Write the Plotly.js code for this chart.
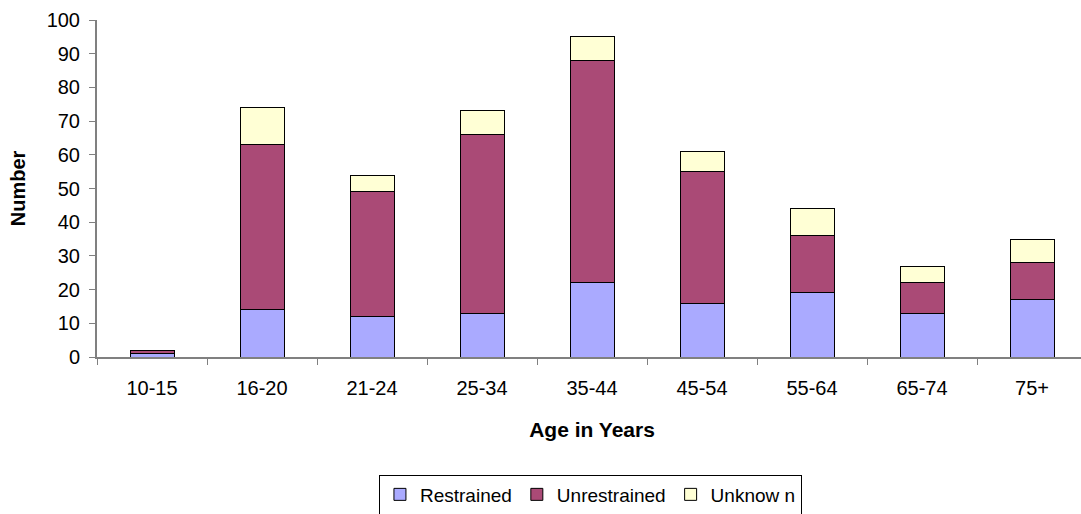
<!DOCTYPE html>
<html>
<head>
<meta charset="utf-8">
<script src="https://cdn.plot.ly/plotly-3.0.1.min.js"></script>
<style>
html,body{margin:0;padding:0;overflow:hidden;background:#fff;}
#chart{width:1090px;height:514px;}
</style>
</head>
<body>
<div id="chart"></div>
<script>
var categories = ["10-15","16-20","21-24","25-34","35-44","45-54","55-64","65-74","75+"];
var restrained   = [1, 14, 12, 13, 22, 16, 19, 13, 17];
var unrestrained = [1, 49, 37, 53, 66, 39, 17,  9, 11];
var unknown      = [0, 11,  5,  7,  7,  6,  8,  5,  7];
var seriesNames  = ["Restrained", "Unrestrained", "Unknow n"];
var yTicks = [0,10,20,30,40,50,60,70,80,90,100];

var colors = ["#AAAAFF", "#AA4A76", "#FFFFD5"];
var font = "Liberation Sans, Arial, sans-serif";

function mk(name, vals, col){
  return {
    type: "bar", name: name, x: categories, y: vals, width: 0.4,
    marker: {color: col, line: {color: "#000000", width: 1}},
    hoverinfo: "x+y+name"
  };
}

var data = [
  mk(seriesNames[0], restrained, colors[0]),
  mk(seriesNames[1], unrestrained, colors[1]),
  mk(seriesNames[2], unknown, colors[2])
];

var layout = {
  width: 1090, height: 514,
  margin: {l: 97, r: 3, t: 20, b: 157.3, autoexpand: false},
  barmode: "stack",
  paper_bgcolor: "#ffffff", plot_bgcolor: "#ffffff",
  font: {family: font, size: 20, color: "#000000"},
  showlegend: true,
  legend: {
    orientation: "h", x: 0.2848, xanchor: "left",
    yref: "container", y: 0.0768, yanchor: "top",
    bordercolor: "#000000", borderwidth: 1, bgcolor: "#ffffff",
    font: {family: font, size: 19, color: "#000000"},
    traceorder: "normal", itemwidth: 30, tracegroupgap: 0
  },
  xaxis: {
    type: "category", automargin: false,
    showline: true, linecolor: "#808080", linewidth: 2,
    ticks: "outside", tickson: "boundaries", ticklen: 6, tickcolor: "#808080", tickwidth: 1,
    ticklabelstandoff: 12,
    showgrid: false, zeroline: false,
    tickfont: {family: font, size: 20},
    title: {text: "<b>Age in Years</b>", font: {family: font, size: 21}, standoff: 24}
  },
  yaxis: {
    range: [0, 100], tickvals: yTicks, ticktext: yTicks.map(String), automargin: false,
    showline: true, linecolor: "#808080", linewidth: 2,
    ticks: "outside", ticklen: 6, tickcolor: "#808080", tickwidth: 1,
    ticklabelstandoff: 5,
    showgrid: false, zeroline: false,
    tickfont: {family: font, size: 20},
    title: {text: "<b>Number</b>", font: {family: font, size: 20}, standoff: 16}
  }
};

Plotly.newPlot("chart", data, layout, {displayModeBar: false});
</script>
</body>
</html>
